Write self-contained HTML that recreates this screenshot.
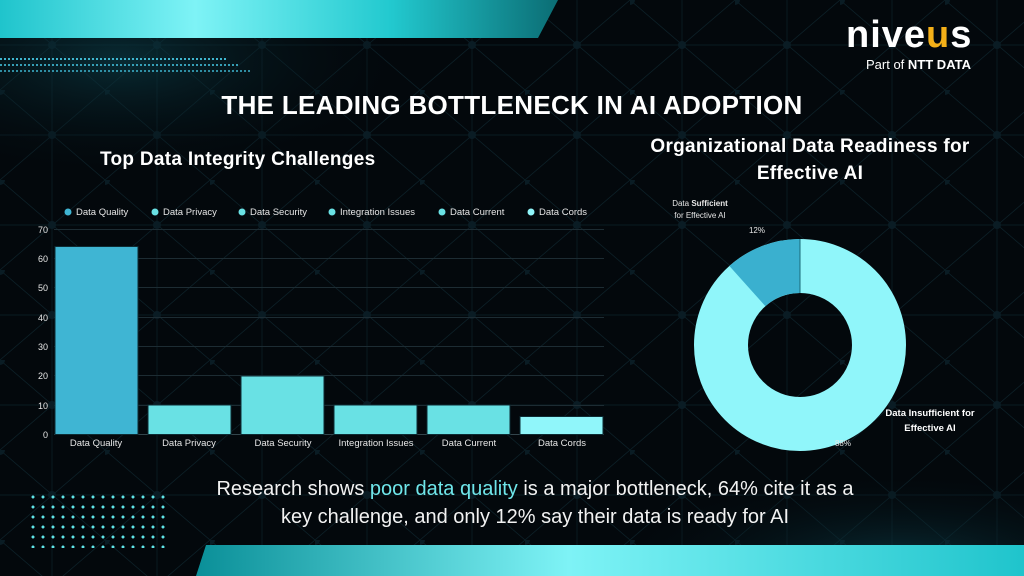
<!DOCTYPE html>
<html><head><meta charset="utf-8"><style>
*{margin:0;padding:0}
html,body{width:1024px;height:576px;overflow:hidden}
body{background:#03080c;font-family:"Liberation Sans",sans-serif;position:relative}
.t{position:absolute;color:#fff;white-space:nowrap}
</style></head><body>
<svg width="1024" height="576" style="position:absolute;left:0;top:0">
<defs>
<linearGradient id="tb" x1="0" x2="1"><stop offset="0" stop-color="#1fc4cc"/><stop offset="0.35" stop-color="#7ef3f6"/><stop offset="0.7" stop-color="#22c9cf"/><stop offset="1" stop-color="#0b6d74"/></linearGradient>
<linearGradient id="bb" x1="0" x2="1"><stop offset="0" stop-color="#0a8f98"/><stop offset="0.45" stop-color="#7ef3f6"/><stop offset="1" stop-color="#1fc4cc"/></linearGradient>
<radialGradient id="g1" cx="0.5" cy="0.5" r="0.5"><stop offset="0" stop-color="#0b3a44" stop-opacity="0.7"/><stop offset="1" stop-color="#03080c" stop-opacity="0"/></radialGradient>
<pattern id="net" width="105" height="90" patternUnits="userSpaceOnUse">
<path d="M0 0L105 90M105 0L0 90M52 0V90M0 45H105" stroke="#0c2129" stroke-width="0.7" fill="none"/>
<circle cx="52" cy="45" r="4" fill="#0a1c24"/><circle cx="0" cy="0" r="5" fill="#0a1c24"/>
</pattern>
</defs>
<rect width="1024" height="576" fill="url(#net)"/>
<ellipse cx="120" cy="60" rx="300" ry="120" fill="url(#g1)"/>
<ellipse cx="900" cy="560" rx="300" ry="90" fill="url(#g1)"/>
<polygon points="0,0 558,0 538,38 0,38" fill="url(#tb)"/>
<polygon points="206,545 1024,545 1024,576 196,576" fill="url(#bb)"/>
<g stroke="#3fb6d0" stroke-width="2" stroke-dasharray="2 2">
<line x1="0" y1="59" x2="228" y2="59"/>
<line x1="0" y1="65" x2="240" y2="65" opacity="0.85"/>
<line x1="0" y1="71" x2="252" y2="71" opacity="0.75"/>
</g>
<g stroke="#1d2c33" stroke-width="1">
<line x1="54" x2="604" y1="229.5" y2="229.5"/><line x1="54" x2="604" y1="258.5" y2="258.5"/>
<line x1="54" x2="604" y1="287.5" y2="287.5"/><line x1="54" x2="604" y1="317.5" y2="317.5"/>
<line x1="54" x2="604" y1="346.5" y2="346.5"/><line x1="54" x2="604" y1="375.5" y2="375.5"/>
<line x1="54" x2="604" y1="405.5" y2="405.5"/><line x1="54" x2="604" y1="434.5" y2="434.5" stroke="#33454c"/>
</g>
<g stroke="#0d2b33" stroke-width="1">
<rect x="55" y="246.5" width="83" height="188" fill="#3fb5d3"/>
<rect x="148" y="405" width="83" height="29.5" fill="#69e1e4"/>
<rect x="241" y="376" width="83" height="58.5" fill="#69e1e4"/>
<rect x="334" y="405" width="83" height="29.5" fill="#69e1e4"/>
<rect x="427" y="405" width="83" height="29.5" fill="#69e1e4"/>
<rect x="520" y="416.5" width="83" height="18" fill="#90f6fa"/>
</g>
<g font-size="9" fill="#e6e6e6" font-family="Liberation Sans,sans-serif">
<text x="48" y="233" text-anchor="end">70</text><text x="48" y="262" text-anchor="end">60</text>
<text x="48" y="291" text-anchor="end">50</text><text x="48" y="321" text-anchor="end">40</text>
<text x="48" y="350" text-anchor="end">30</text><text x="48" y="379" text-anchor="end">20</text>
<text x="48" y="409" text-anchor="end">10</text><text x="48" y="438" text-anchor="end">0</text>
<g text-anchor="middle" font-size="9.5">
<text x="96" y="446">Data Quality</text><text x="189" y="446">Data Privacy</text><text x="283" y="446">Data Security</text>
<text x="376" y="446">Integration Issues</text><text x="469" y="446">Data Current</text><text x="562" y="446">Data Cords</text>
</g>
<g font-size="9.5">
<circle cx="68" cy="212" r="3.5" fill="#3fb5d3"/><text x="76" y="215">Data Quality</text>
<circle cx="155" cy="212" r="3.5" fill="#69e1e4"/><text x="163" y="215">Data Privacy</text>
<circle cx="242" cy="212" r="3.5" fill="#69e1e4"/><text x="250" y="215">Data Security</text>
<circle cx="332" cy="212" r="3.5" fill="#69e1e4"/><text x="340" y="215">Integration Issues</text>
<circle cx="442" cy="212" r="3.5" fill="#69e1e4"/><text x="450" y="215">Data Current</text>
<circle cx="531" cy="212" r="3.5" fill="#90f6fa"/><text x="539" y="215">Data Cords</text>
</g>
</g>
<circle cx="800" cy="345" r="79" fill="none" stroke="#90f6fa" stroke-width="54"/>
<path d="M800 239 A106 106 0 0 0 729.4 266 L765.4 306.2 A52 52 0 0 1 800 293 Z" fill="#3ab0cf"/>
<line x1="800" y1="239" x2="800" y2="293" stroke="#1a6a78" stroke-width="1"/>
<g font-size="8" fill="#e6e6e6">
<text x="757" y="233" text-anchor="middle">12%</text>
<text x="843" y="446" text-anchor="middle">88%</text>
<text x="700" y="206" text-anchor="middle">Data <tspan font-weight="bold">Sufficient</tspan></text>
<text x="700" y="218" text-anchor="middle">for Effective AI</text>
</g>
<g font-size="9.5" fill="#fff" font-weight="bold" text-anchor="middle">
<text x="930" y="416">Data Insufficient for</text><text x="930" y="431">Effective AI</text>
</g>
</svg>
<div style="position:absolute;left:28px;top:492px;width:140px;height:56px;background:radial-gradient(circle,#5fe3e6 1.3px,transparent 1.7px) 0 0/10px 10px"></div>
<div class="t" style="left:0;width:1024px;text-align:center;top:90px;font-size:26px;font-weight:bold;letter-spacing:0.3px">THE LEADING BOTTLENECK IN AI ADOPTION</div>
<div class="t" style="left:100px;top:149px;font-size:19px;font-weight:bold;letter-spacing:0.3px">Top Data Integrity Challenges</div>
<div class="t" style="left:590px;width:440px;text-align:center;top:133px;font-size:19px;font-weight:bold;line-height:27px;letter-spacing:0.3px">Organizational Data Readiness for<br>Effective AI</div>
<div class="t" style="left:846px;top:12px;font-size:38px;font-weight:bold;letter-spacing:1px;line-height:46px">nive<span style="color:#f4b018">u</span>s</div>
<div class="t" style="left:866px;top:57px;font-size:13px">Part of <b>NTT DATA</b></div>
<div class="t" style="left:0;width:1070px;text-align:center;top:475px;font-size:20px;line-height:28px;color:#f2f2f2">Research shows <span style="color:#6fe6ea">poor data quality</span> is a major bottleneck, 64% cite it as a<br>key challenge, and only 12% say their data is ready for AI</div>
</body></html>
